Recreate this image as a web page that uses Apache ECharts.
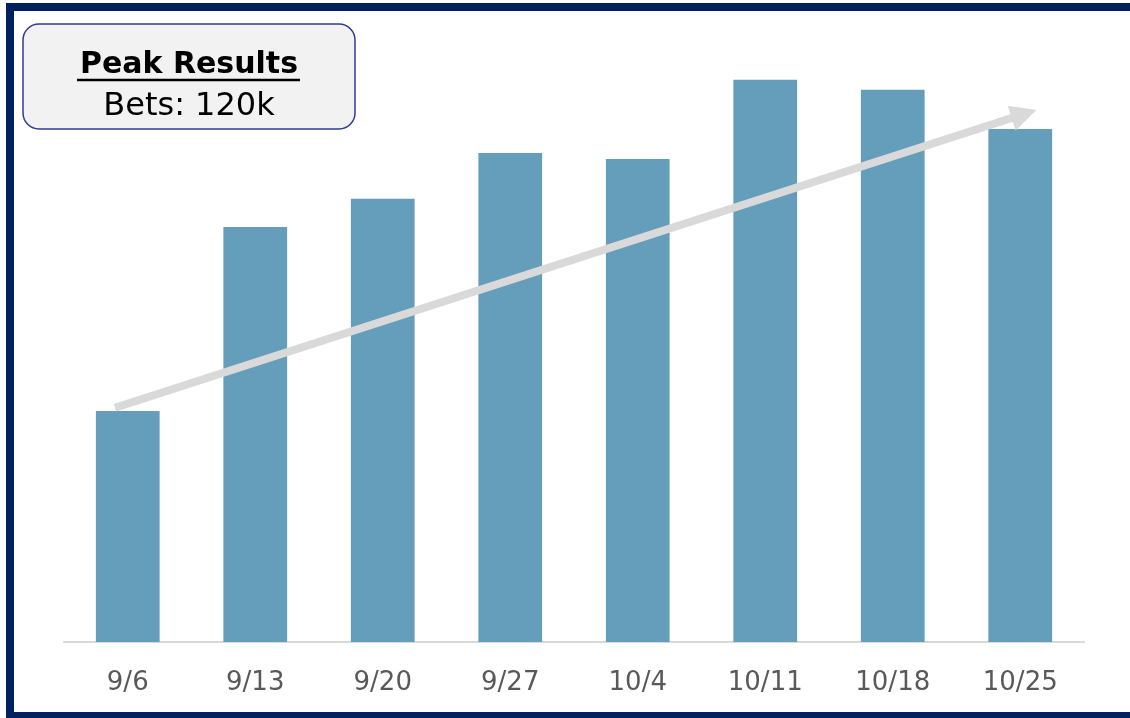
<!DOCTYPE html>
<html>
<head>
<meta charset="utf-8">
<script src="https://cdn.jsdelivr.net/npm/echarts@6/dist/echarts.min.js"></script>
<style>
  html, body { margin: 0; padding: 0; background: #fff; }
  #chart { position: absolute; left: 0; top: 0; width: 1130px; height: 718px; }
  /* navy frame, open on the right */
  .frame {
    position: absolute; left: 6px; top: 3px; width: 1124px; height: 701px;
    border-left: 8px solid #002060; border-top: 8px solid #002060; border-bottom: 6px solid #002060;
    pointer-events: none;
  }
</style>
</head>
<body>
<div id="chart"></div>
<div class="frame"></div>
<script>
const weeks = ['9/6', '9/13', '9/20', '9/27', '10/4', '10/11', '10/18', '10/25']
const bets = [49.3, 88.6, 94.6, 104.4, 103.1, 120, 117.9, 109.5] // thousands
// trend arrow ends, in [category position, value]
const trendFrom = [-0.1, 50]
const trendTo = [7.03, 112.7]

const FONT = 'DejaVu Sans'
const chart = echarts.init(document.getElementById('chart'))

const option = {
  animation: false,
  grid: { left: 64, right: 46, top: 33, bottom: 76 },
  xAxis: [
    {
      type: 'category',
      data: weeks,
      axisTick: { show: false },
      axisLine: { lineStyle: { color: '#d9d9d9', width: 2 } },
      axisLabel: { color: '#595959', fontSize: 26, fontFamily: FONT, margin: 28 }
    },
    { type: 'value', min: -0.5, max: 7.5, show: false }
  ],
  yAxis: { type: 'value', min: 0, max: 130, show: false, splitLine: { show: false } },
  series: [
    {
      type: 'bar',
      data: bets,
      barCategoryGap: '50%',
      itemStyle: { color: '#659EBA' }
    },
    {
      // carrier for the trend arrow
      type: 'line',
      xAxisIndex: 1,
      data: [trendFrom, trendTo],
      symbol: 'none',
      lineStyle: { opacity: 0 },
      silent: true,
      markLine: {
        silent: true,
        symbol: ['none', 'path://M5,0 L10,10 L0,10 Z'],
        symbolSize: [26, 26],
        label: { show: false },
        lineStyle: { color: '#d9d9d9', width: 8, type: 'solid', opacity: 1 },
        emphasis: { disabled: true },
        data: [[{ coord: trendFrom }, { coord: trendTo }]]
      }
    }
  ],
  graphic: [
    {
      type: 'rect',
      shape: { x: 23, y: 24, width: 332, height: 105, r: 16 },
      style: { fill: '#f2f2f2', stroke: '#2f3b96', lineWidth: 1.5 }
    },
    {
      type: 'text',
      x: 189, y: 65,
      style: { text: 'Peak Results', fontSize: 30, fontWeight: 'bold', fontFamily: FONT, fill: '#000', align: 'center', verticalAlign: 'middle' }
    },
    {
      type: 'line',
      shape: { x1: 77, y1: 80, x2: 300, y2: 80 },
      style: { stroke: '#000', lineWidth: 2.5 }
    },
    {
      type: 'text',
      x: 189, y: 107,
      style: { text: 'Bets: 120k', fontSize: 32, fontFamily: FONT, fill: '#000', align: 'center', verticalAlign: 'middle' }
    }
  ]
}
chart.setOption(option)
</script>
</body>
</html>
